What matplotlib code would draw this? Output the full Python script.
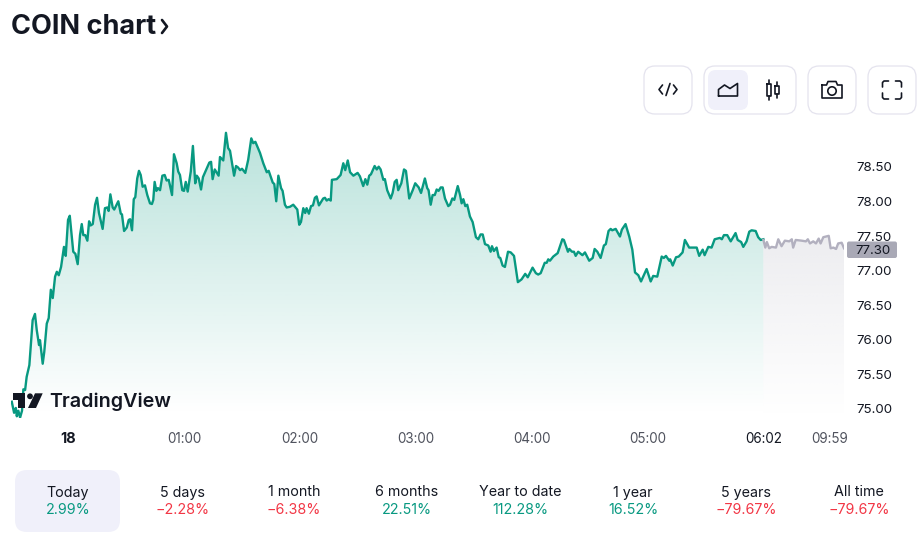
import numpy as np
from matplotlib import pyplot as plt
from matplotlib.colors import LinearSegmentedColormap, to_rgb
from matplotlib.patches import Circle, FancyBboxPatch, Polygon
from matplotlib.transforms import ScaledTranslation

plt.rcParams["font.family"] = ["Inter", "DejaVu Sans"]

# minutes from midnight, the after-hours part is squeezed on the axis like in the original
session_time = [
    -29.1, -27.9, -27.0, -26.5, -25.7, -24.8, -23.8, -23.1, -22.2, -21.4, -20.0, -19.3, -18.3, -17.1, -16.2, -15.0,
    -14.5, -13.1, -12.3, -11.0, -10.0, -8.9, -7.9, -6.7, -5.8, -4.8, -3.6, -2.1, -1.2, 0.0, 0.9, 2.7,
    3.8, 5.0, 6.2, 7.1, 7.9, 8.9, 10.0, 10.9, 11.7, 12.8, 14.0, 15.0, 16.0, 17.9, 19.1, 20.3,
    21.0, 21.9, 23.1, 23.9, 26.0, 27.3, 27.9, 29.0, 30.4, 31.4, 32.1, 33.1, 34.0, 34.8, 35.8, 36.7,
    37.6, 38.6, 39.8, 41.0, 42.4, 43.4, 44.1, 44.8, 45.7, 46.5, 47.6, 48.8, 50.0, 51.0, 52.1, 53.8,
    54.8, 56.2, 57.0, 57.9, 59.1, 60.0, 60.9, 61.9, 63.5, 64.6, 65.8, 66.6, 67.6, 68.8, 69.8, 71.4,
    73.1, 74.0, 74.8, 75.9, 77.9, 78.6, 80.3, 81.7, 82.8, 83.8, 85.9, 86.9, 87.9, 89.0, 90.0, 91.7,
    93.2, 94.8, 95.8, 96.9, 99.3, 101.0, 102.8, 103.8, 105.9, 106.7, 107.7, 108.8, 110.2, 111.0, 112.2, 113.1,
    114.8, 116.5, 118.6, 119.6, 120.5, 121.7, 122.7, 123.4, 124.6, 125.7, 126.7, 127.7, 128.6, 129.8, 132.0, 132.9,
    133.8, 134.8, 135.9, 136.5, 139.0, 141.0, 142.4, 143.4, 144.7, 145.9, 147.6, 149.8, 151.0, 152.7, 153.8, 154.8,
    155.8, 156.7, 158.6, 159.7, 160.7, 161.7, 163.1, 163.9, 165.1, 166.9, 167.9, 169.0, 170.0, 170.8, 172.4, 173.8,
    174.8, 176.5, 178.3, 179.6, 181.4, 182.6, 184.6, 185.8, 186.5, 187.6, 188.6, 189.7, 190.7, 191.7, 192.8, 193.8,
    195.0, 196.7, 197.6, 198.8, 199.8, 201.6, 202.8, 203.6, 204.5, 205.5, 206.5, 207.9, 209.3, 211.0, 212.2, 213.4,
    214.5, 215.7, 217.4, 218.6, 219.3, 220.3, 221.7, 222.8, 223.6, 224.8, 226.0, 227.6, 229.0, 230.7, 232.7, 234.6,
    236.5, 237.8, 240.3, 242.0, 243.2, 244.5, 246.6, 247.6, 248.4, 249.3, 251.0, 253.3, 255.7, 256.5, 258.6, 259.3,
    260.7, 261.7, 262.6, 263.9, 266.1, 267.4, 269.6, 271.4, 272.4, 273.8, 275.5, 277.2, 278.2, 279.6, 280.7, 281.5,
    283.3, 285.5, 286.5, 288.4, 290.3, 291.9, 293.3, 295.0, 296.4, 299.3, 301.4, 302.7, 304.8, 307.1, 308.2, 309.3,
    311.0, 311.5, 312.8, 314.5, 315.9, 317.9, 319.1, 321.3, 323.4, 325.2, 326.5, 328.3, 329.3, 331.2, 332.9, 334.5,
    337.2, 338.2, 339.3, 341.0, 342.8, 345.3, 346.4, 348.2, 349.3, 351.0, 352.4, 353.6, 355.7, 357.0, 358.3, 359.7,
]
session_price = [
    75.09, 74.93, 75.00, 74.88, 74.96, 74.86, 74.96, 75.27, 75.26, 75.45, 75.62, 75.89, 76.27, 76.36, 76.13, 75.91,
    75.98, 75.64, 75.81, 76.22, 76.30, 76.71, 76.59, 76.90, 76.97, 76.92, 77.04, 77.33, 77.20, 77.72, 77.78, 77.26,
    77.23, 77.08, 77.50, 77.66, 77.50, 77.50, 77.42, 77.70, 77.64, 77.66, 77.94, 78.04, 77.82, 77.59, 77.89, 77.90,
    77.85, 78.09, 77.90, 77.87, 77.99, 77.81, 77.80, 77.56, 77.61, 77.72, 77.73, 77.57, 78.02, 78.05, 78.32, 78.43,
    78.37, 78.20, 78.22, 78.08, 77.96, 77.95, 78.01, 78.27, 78.14, 78.18, 78.15, 78.36, 78.37, 78.29, 78.30, 78.08,
    78.67, 78.54, 78.42, 78.37, 78.15, 78.14, 78.27, 78.13, 78.42, 78.79, 78.25, 78.36, 78.32, 78.16, 78.34, 78.44,
    78.55, 78.56, 78.31, 78.45, 78.36, 78.63, 78.58, 78.98, 78.76, 78.72, 78.36, 78.50, 78.48, 78.44, 78.46, 78.40,
    78.59, 78.90, 78.83, 78.85, 78.69, 78.54, 78.41, 78.43, 78.26, 78.24, 77.99, 78.36, 78.18, 78.14, 77.94, 77.90,
    77.91, 77.94, 77.87, 77.65, 77.69, 77.89, 77.82, 77.89, 77.81, 77.92, 77.93, 78.04, 78.06, 77.93, 78.03, 78.04,
    78.00, 78.02, 78.00, 78.30, 78.31, 78.37, 78.54, 78.44, 78.58, 78.41, 78.36, 78.40, 78.35, 78.21, 78.31, 78.23,
    78.36, 78.38, 78.50, 78.45, 78.49, 78.45, 78.30, 78.31, 78.15, 78.03, 78.11, 78.27, 78.30, 78.15, 78.25, 78.45,
    78.43, 78.03, 78.15, 78.25, 78.19, 78.11, 78.32, 78.18, 78.15, 77.94, 78.08, 78.08, 78.16, 78.14, 78.19, 78.19,
    78.03, 77.92, 77.94, 78.03, 78.01, 78.21, 78.08, 77.96, 78.02, 77.92, 77.94, 77.77, 77.69, 77.47, 77.44, 77.51,
    77.51, 77.37, 77.35, 77.26, 77.34, 77.27, 77.32, 77.18, 77.17, 77.06, 77.04, 77.26, 77.25, 77.20, 76.82, 76.86,
    76.94, 76.89, 77.03, 76.95, 76.93, 76.95, 77.10, 77.10, 77.15, 77.13, 77.19, 77.24, 77.44, 77.43, 77.26, 77.30,
    77.26, 77.26, 77.20, 77.26, 77.21, 77.25, 77.13, 77.17, 77.30, 77.26, 77.17, 77.35, 77.37, 77.56, 77.59, 77.57,
    77.59, 77.48, 77.58, 77.66, 77.48, 77.29, 76.96, 76.92, 76.83, 77.01, 76.83, 76.91, 76.90, 77.19, 77.17, 77.20,
    77.13, 77.15, 77.06, 77.18, 77.19, 77.25, 77.43, 77.32, 77.32, 77.32, 77.20, 77.29, 77.21, 77.33, 77.32, 77.44,
    77.46, 77.44, 77.50, 77.50, 77.41, 77.53, 77.43, 77.40, 77.33, 77.41, 77.55, 77.57, 77.56, 77.47, 77.43, 77.44,
]
after_time = [
    359.7, 360.7, 361.5, 362.7, 364.0, 366.2, 367.4, 369.1, 370.8, 373.1, 374.4, 375.1, 376.4, 379.5, 381.7,
    382.7, 383.8, 385.5, 386.9, 388.3, 389.3, 390.7, 393.5, 394.5, 395.9, 397.3, 398.4, 400.2, 401.4,
]
after_price = [
    77.43, 77.32, 77.40, 77.31, 77.33, 77.32, 77.44, 77.34, 77.42, 77.41, 77.44, 77.32, 77.43, 77.42, 77.41,
    77.44, 77.38, 77.41, 77.38, 77.45, 77.38, 77.47, 77.49, 77.31, 77.32, 77.30, 77.38, 77.39, 77.31,
]
time_ticks = [0, 60, 120, 180, 240, 300, 360, 394]
time_labels = ["18", "01:00", "02:00", "03:00", "04:00", "05:00", "06:02", "09:59"]
price_ticks = [75.0, 75.5, 76.0, 76.5, 77.0, 77.5, 78.0, 78.5]
last_price = "77.30"
periods = ["Today", "5 days", "1 month", "6 months", "Year to date", "1 year", "5 years", "All time"]
changes = ["2.99%", "\u22122.28%", "\u22126.38%", "22.51%", "112.28%", "16.52%", "\u221279.67%", "\u221279.67%"]

GREEN = "#089981"
RED = "#f23645"
GREY_LINE = "#b2b0bf"
DARK = "#131722"
BORDER = "#e4e3ee"
SELECTED = "#f0f0fa"
W, H = 923, 537


def gradient_fill(ax, x, y, base, color, top_alpha):
    # vertical fade from the top of the series down to the base, clipped to the area
    cmap = LinearSegmentedColormap.from_list("fade", [(*to_rgb(color), 0), (*to_rgb(color), top_alpha)])
    img = ax.imshow(
        np.linspace(1, 0, 256).reshape(-1, 1),
        cmap=cmap,
        vmin=0,
        vmax=1,
        aspect="auto",
        extent=(min(x), max(x), base, max(y)),
        zorder=1,
    )
    poly = Polygon(
        [(x[0], base)] + list(zip(x, y)) + [(x[-1], base)],
        closed=True,
        transform=ax.transData,
        facecolor="none",
        edgecolor="none",
    )
    ax.add_patch(poly)
    img.set_clip_path(poly)


fig = plt.figure(figsize=(W / 100, H / 100), dpi=100)

# chart area, sized so the price and time scales land where the original has them
ax = fig.add_axes([11 / W, 1 - 418 / H, (844 - 11) / W, (418 - 125) / H])
gradient_fill(ax, session_time, session_price, 74.9, GREEN, 0.28)
gradient_fill(ax, after_time, after_price, 74.9, "#d2d2da", 0.4)
ax.plot(session_time, session_price, color=GREEN, lw=1.7, zorder=3, solid_joinstyle="round")
ax.plot(after_time, after_price, color=GREY_LINE, lw=1.7, zorder=3, solid_joinstyle="round")
ax.set_xlim(-29.5, 401.4)
ax.set_ylim(74.855, 79.093)
ax.yaxis.tick_right()
ax.set_yticks(price_ticks)
ax.set_yticklabels([f"{p:.2f}" for p in price_ticks], fontsize=9.6, color=DARK)
ax.set_xticks(time_ticks)
ax.set_xticklabels(time_labels, fontsize=9.7, color="#50535e")
ax.tick_params(axis="y", length=0, pad=8.8)
ax.tick_params(axis="x", length=0, pad=10)
xlabels = ax.get_xticklabels()
xlabels[0].set_fontweight("bold")
xlabels[0].set_fontsize(10.4)
xlabels[0].set_color(DARK)
xlabels[6].set_color(DARK)
nudge = ScaledTranslation(0, -1 / 100, fig.dpi_scale_trans)
for label in ax.get_yticklabels():
    label.set_transform(label.get_transform() + nudge)
for side in ax.spines.values():
    side.set_visible(False)
ax.patch.set_alpha(0)

# everything around the chart is placed in pixels of the page
ui = fig.add_axes([0, 0, 1, 1], zorder=5)
ui.set_xlim(0, W)
ui.set_ylim(H, 0)
ui.axis("off")


def rounded(x0, y0, x1, y1, r, face="white", edge=BORDER, lw=0.9):
    ui.add_patch(
        FancyBboxPatch(
            (x0 + r, y0 + r),
            x1 - x0 - 2 * r,
            y1 - y0 - 2 * r,
            boxstyle=f"round,pad={r},rounding_size={r}",
            facecolor=face,
            edgecolor=edge,
            linewidth=lw,
        )
    )


def stroke(points, lw=1.2, closed=False):
    pts = np.array(points + points[:1] if closed else points)
    ui.plot(pts[:, 0], pts[:, 1], color=DARK, lw=lw, solid_capstyle="round", solid_joinstyle="round")


# title
ui.text(11, 26.5, "COIN chart", fontsize=19.5, fontweight="bold", color=DARK, va="center", ha="left")
stroke([(162, 20), (167, 26.5), (162, 33)], lw=1.9)

# toolbar
rounded(644, 66, 692, 114, 11)
rounded(704, 66, 796, 114, 11)
rounded(708, 70, 748, 110, 8, face=SELECTED, edge="none", lw=0)
rounded(808, 66, 856, 114, 11)
rounded(868, 66, 916, 114, 11)
stroke([(662.5, 85), (659, 89.5), (662.5, 94)])
stroke([(673.5, 85), (677, 89.5), (673.5, 94)])
stroke([(670, 83.5), (666, 95.5)])
stroke([(718.5, 96), (718.5, 89.5), (724.5, 85), (730, 88.5), (737.5, 83.5), (737.5, 96)], closed=True)
stroke([(768.5, 80), (768.5, 83.5)])
stroke([(768.5, 95.5), (768.5, 99.5)])
stroke([(766.5, 83.5), (770.5, 83.5), (770.5, 95.5), (766.5, 95.5)], closed=True)
stroke([(776.7, 82), (776.7, 86)])
stroke([(776.7, 93.5), (776.7, 97.5)])
stroke([(775, 86), (778.7, 86), (778.7, 93.5), (775, 93.5)], closed=True)
stroke([(822, 85), (826.5, 85), (828, 81.5), (836, 81.5), (837.5, 85), (842, 85), (842, 98), (822, 98)], closed=True)
ui.add_patch(Circle((832, 91), 4.2, facecolor="none", edgecolor=DARK, lw=1.2))
for cx, cy, dx, dy in [(882.5, 81, 1, 1), (901.5, 81, -1, 1), (882.5, 99, 1, -1), (901.5, 99, -1, -1)]:
    stroke([(cx + 6 * dx, cy), (cx + 1.5 * dx, cy), (cx, cy + 1.5 * dy), (cx, cy + 6 * dy)])

# last price tag
rounded(847, 241.5, 897, 258, 2, face="#a9a9b6", edge="none", lw=0)
ui.text(873.5, 250.5, last_price, fontsize=9.6, color=DARK, ha="center", va="center")

# TradingView logo
ui.add_patch(
    Polygon(
        [(12.7, 393.3), (25, 393.3), (25, 407.8), (17.8, 407.8), (17.8, 400), (12.7, 400)],
        closed=True,
        facecolor=DARK,
        edgecolor="none",
    )
)
ui.add_patch(Circle((30, 396.3), 2.9, facecolor=DARK, edgecolor="none"))
ui.add_patch(
    Polygon([(35, 393.3), (42.7, 393.3), (36, 408), (28, 408)], closed=True, facecolor=DARK, edgecolor="none")
)
ui.text(49.5, 402, "TradingView", fontsize=14.2, fontweight="semibold", color=DARK, va="center", ha="left")

# period tabs
rounded(15, 470, 120, 532, 12, face=SELECTED, edge="none", lw=0)
tab_x = [68, 183, 294, 407, 520, 633, 746, 859]
for x, period, change in zip(tab_x, periods, changes):
    ui.text(x, 492.5, period, fontsize=10.3, color=DARK, ha="center", va="center")
    ui.text(
        x, 510.5, change, fontsize=10.3, color=RED if change.startswith("\u2212") else GREEN, ha="center", va="center"
    )

fig.savefig("out.png", dpi=100)
